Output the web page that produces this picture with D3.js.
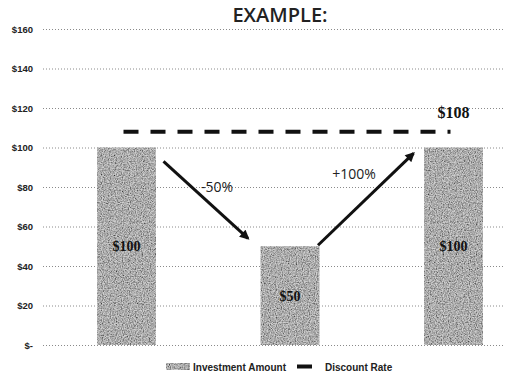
<!DOCTYPE html>
<html>
<head>
<meta charset="utf-8">
<script src="https://cdn.jsdelivr.net/npm/d3@7"></script>
<style>
  body { margin: 0; background: #fff; }
  svg { display: block; }
</style>
</head>
<body>
<svg id="chart" width="505" height="376"></svg>
<script>
(() => {
  const categories = ["Start", "Middle", "End"];
  const investment = [100, 50, 100];
  const discountRate = [108, 108, 108];
  const yTicks = [0, 20, 40, 60, 80, 100, 120, 140, 160];
  const changeLabels = ["-50%", "+100%"];

  const W = 505, H = 376;
  const svg = d3.select("#chart");

  const x = d3.scaleBand().domain(categories).range([44.75, 535.25])
    .paddingInner(0.64).paddingOuter(0.32);
  const y = d3.scaleLinear().domain([0, 160]).range([345, 29]);

  // noisy gray texture, like the scanned fill
  const defs = svg.append("defs");
  const f = defs.append("filter").attr("id", "grain")
    .attr("x", 0).attr("y", 0).attr("width", 1).attr("height", 1);
  f.append("feTurbulence").attr("type", "fractalNoise")
    .attr("baseFrequency", 0.85).attr("numOctaves", 2).attr("seed", 3).attr("result", "n");
  f.append("feColorMatrix").attr("type", "matrix")
    .attr("values", "0 0 0 0 0  0 0 0 0 0  0 0 0 0 0  -1.6 0 0 0 1.15").attr("result", "m");
  f.append("feComposite").attr("in", "m").attr("in2", "SourceGraphic").attr("operator", "in").attr("result", "dots");
  f.append("feMerge").call(m => {
    m.append("feMergeNode").attr("in", "SourceGraphic");
    m.append("feMergeNode").attr("in", "dots");
  });

  // title
  svg.append("text").attr("x", 280).attr("y", 22).attr("text-anchor", "middle")
    .attr("font-family", "Open Sans").attr("font-weight", 600).attr("font-size", 20)
    .attr("fill", "#222").text("EXAMPLE:");

  // gridlines + y labels
  yTicks.forEach(t => {
    svg.append("line").attr("x1", 43).attr("x2", W)
      .attr("y1", y(t) + 0.5).attr("y2", y(t) + 0.5)
      .attr("stroke", "#8a8a8a").attr("stroke-width", 1).attr("stroke-dasharray", "1 2");
    svg.append("text").attr("x", 33).attr("y", y(t) + 3.5).attr("text-anchor", "end")
      .attr("font-family", "Liberation Sans").attr("font-weight", "bold").attr("font-size", 9.5)
      .attr("fill", "#222").text(t === 0 ? "$-" : "$" + t);
  });

  // bars
  svg.append("g").selectAll("rect").data(investment).join("rect")
    .attr("x", (d, i) => x(categories[i])).attr("width", x.bandwidth())
    .attr("y", d => y(d)).attr("height", d => y(0) - y(d))
    .attr("fill", "#d0d0d0").attr("filter", "url(#grain)");

  // bar labels
  svg.append("g").selectAll("text").data(investment).join("text")
    .attr("x", (d, i) => x(categories[i]) + x.bandwidth() / 2)
    .attr("y", d => (y(d) + y(0)) / 2 + 5)
    .attr("text-anchor", "middle")
    .attr("font-family", "Liberation Serif").attr("font-weight", "bold").attr("font-size", 14)
    .attr("fill", "#111").text(d => "$" + d);

  // discount rate line
  const line = d3.line().x((d, i) => x(categories[i]) + x.bandwidth() / 2).y(d => y(d));
  svg.append("path").datum(discountRate).attr("d", line)
    .attr("fill", "none").attr("stroke", "#111").attr("stroke-width", 4)
    .attr("stroke-dasharray", "15 12").attr("transform", "translate(-3,0)");
  svg.append("text")
    .attr("x", x(categories[2]) + x.bandwidth() / 2).attr("y", y(discountRate[2]) - 14)
    .attr("text-anchor", "middle")
    .attr("font-family", "Liberation Serif").attr("font-weight", "bold").attr("font-size", 16)
    .attr("fill", "#111").text("$" + discountRate[2]);

  // arrows
  defs.append("marker").attr("id", "head").attr("viewBox", "0 0 10 10")
    .attr("refX", 8).attr("refY", 5).attr("markerWidth", 3.5).attr("markerHeight", 3.2)
    .attr("orient", "auto").append("path").attr("d", "M0,0 L10,5 L0,10 z").attr("fill", "#111");
  const cx = i => x(categories[i]) + x.bandwidth() / 2;
  const arrows = [
    { x1: cx(0) + 37, y1: y(93), x2: cx(1) - 42, y2: y(54) },
    { x1: cx(1) + 28, y1: y(50.5), x2: cx(2) - 40, y2: y(97) }
  ];
  svg.append("g").selectAll("line").data(arrows).join("line")
    .attr("x1", d => d.x1).attr("y1", d => d.y1).attr("x2", d => d.x2).attr("y2", d => d.y2)
    .attr("stroke", "#111").attr("stroke-width", 3).attr("marker-end", "url(#head)");

  const labelPos = [{ x: 217, y: 192 }, { x: 354, y: 179 }];
  svg.append("g").selectAll("text").data(changeLabels).join("text")
    .attr("x", (d, i) => labelPos[i].x).attr("y", (d, i) => labelPos[i].y)
    .attr("text-anchor", "middle")
    .attr("font-family", "Open Sans").attr("font-size", 14)
    .attr("fill", "#222").text(d => d);

  // legend
  const lg = svg.append("g").attr("font-family", "Liberation Sans").attr("font-weight", "bold")
    .attr("font-size", 10).attr("fill", "#222");
  lg.append("rect").attr("x", 166).attr("y", 363).attr("width", 24).attr("height", 7)
    .attr("fill", "#d0d0d0").attr("filter", "url(#grain)");
  lg.append("text").attr("x", 193).attr("y", 370.5).text("Investment Amount");
  lg.append("line").attr("x1", 297).attr("x2", 312).attr("y1", 366.5).attr("y2", 366.5)
    .attr("stroke", "#111").attr("stroke-width", 4);
  lg.append("text").attr("x", 325).attr("y", 370.5).text("Discount Rate");
})();
</script>
</body>
</html>
